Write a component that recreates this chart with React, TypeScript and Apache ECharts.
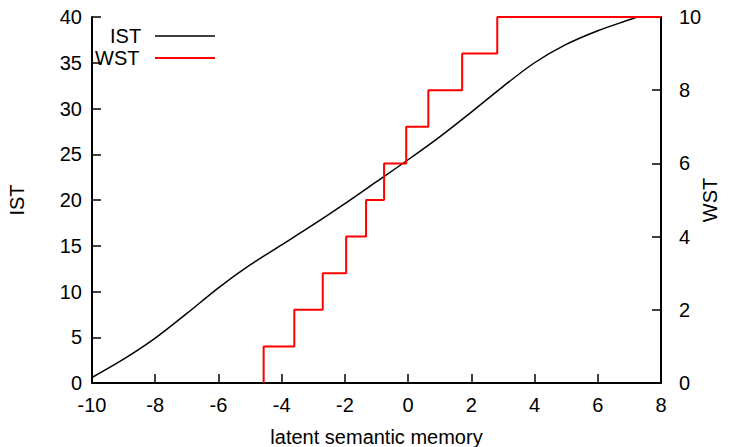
import React, { useEffect, useRef } from "react";
import * as echarts from "echarts";

const istX = [-10, -9, -8, -7, -6, -5, -4, -3, -2, -1, 0, 1, 2, 3, 4, 5, 6, 7, 7.25];
const istY = [0.6, 2.6, 4.9, 7.6, 10.4, 12.9, 15.1, 17.3, 19.6, 22.0, 24.4, 26.9, 29.6, 32.4, 35.0, 37.0, 38.5, 39.7, 40];

const wstJumpX = [-4.57, -3.6, -2.7, -1.96, -1.33, -0.76, -0.06, 0.64, 1.71, 2.82];
const wstLevels = [1, 2, 3, 4, 5, 6, 7, 8, 9, 10];
const wstEndX = 8;

const FONT = "'Liberation Sans', Arial, sans-serif";

export default function App() {
  const ref = useRef<HTMLDivElement>(null);
  useEffect(() => {
    if (!ref.current) return;
    const chart = echarts.init(ref.current, null, { renderer: "svg" });

    const istData = istX.map((x, i) => [x, istY[i]]);
    const wstData: number[][] = [];
    let prev = 0;
    wstJumpX.forEach((x, i) => {
      wstData.push([x, prev]);
      wstData.push([x, wstLevels[i]]);
      prev = wstLevels[i];
    });
    wstData.push([wstEndX, prev]);

    const axisText = { color: "#000", fontSize: 20, fontFamily: FONT };
    const axisLine = { show: true, onZero: false, lineStyle: { color: "#000", width: 2 } };
    const axisTick = { show: true, inside: true, length: 9, lineStyle: { color: "#000", width: 1.5 } };

    chart.setOption({
      animation: false,
      grid: { left: 92, right: 83, top: 17, bottom: 64, containLabel: false, outerBoundsMode: "none" },
      xAxis: {
        type: "value",
        min: -10,
        max: 8,
        interval: 2,
        name: "latent semantic memory",
        nameLocation: "middle",
        nameGap: 44,
        nameMoveOverlap: false,
        nameTextStyle: axisText,
        axisLine,
        axisTick,
        axisLabel: { ...axisText, margin: 12 },
        splitLine: { show: false },
      },
      yAxis: [
        {
          type: "value",
          min: 0,
          max: 40,
          interval: 5,
          name: "IST",
          nameLocation: "middle",
          nameGap: 65,
          nameRotate: 90,
          nameMoveOverlap: false,
          nameTextStyle: axisText,
          axisLine,
          axisTick,
          axisLabel: { ...axisText, margin: 10 },
          splitLine: { show: false },
        },
        {
          type: "value",
          position: "right",
          min: 0,
          max: 10,
          interval: 2,
          name: "WST",
          nameLocation: "middle",
          nameGap: 39,
          nameRotate: 90,
          nameMoveOverlap: false,
          nameTextStyle: axisText,
          axisLine,
          axisTick,
          axisLabel: { ...axisText, margin: 18 },
          splitLine: { show: false },
        },
      ],
      series: [
        {
          name: "IST",
          type: "line",
          data: istData,
          smooth: 0.3,
          showSymbol: false,
          yAxisIndex: 0,
          lineStyle: { color: "#000", width: 1.5 },
          clip: false,
        },
        {
          name: "WST",
          type: "line",
          data: wstData,
          showSymbol: false,
          yAxisIndex: 1,
          lineStyle: { color: "#ff0000", width: 2 },
          clip: false,
        },
      ],
      graphic: [
        { type: "text", left: 110, top: 26, style: { text: "IST", fontSize: 20, fontFamily: FONT, fill: "#000" } },
        { type: "line", shape: { x1: 155, y1: 36, x2: 215, y2: 36 }, style: { stroke: "#000", lineWidth: 1.5 } },
        { type: "text", left: 95, top: 48, style: { text: "WST", fontSize: 20, fontFamily: FONT, fill: "#000" } },
        { type: "line", shape: { x1: 155, y1: 58, x2: 215, y2: 58 }, style: { stroke: "#ff0000", lineWidth: 2 } },
      ],
    });
    return () => chart.dispose();
  }, []);
  return <div ref={ref} style={{ position: "absolute", left: 0, top: 0, width: 744, height: 447 }} />;
}
